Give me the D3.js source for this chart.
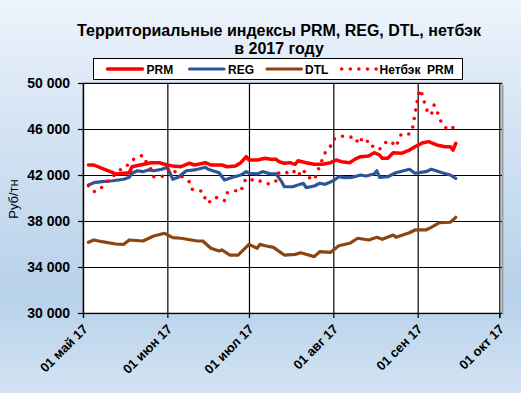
<!DOCTYPE html>
<html><head><meta charset="utf-8">
<script src="https://cdn.jsdelivr.net/npm/d3@7"></script>
<style>body{margin:0;background:#fff}svg{display:block}</style>
</head><body>
<svg id="c" width="521" height="393"></svg>
<script>
// ---------- DATA ----------
const titleLines = ["Территориальные индексы PRM, REG, DTL, нетбэк", "в 2017 году"];
const seriesNames = ["PRM", "REG", "DTL", "Нетбэк  PRM"];
const yTicks = [30000, 34000, 38000, 42000, 46000, 50000];
const xTickDates = ["2017-05-01","2017-06-01","2017-07-01","2017-08-01","2017-09-01","2017-10-01"];
const xTickLabels = ["01 май 17","01 июн 17","01 июл 17","01 авг 17","01 сен 17","01 окт 17"];
const yTitle = "Руб/тн";

const prmDates = ["2017-05-03","2017-05-05","2017-05-08","2017-05-12","2017-05-13","2017-05-16","2017-05-18","2017-05-19","2017-05-22","2017-05-26","2017-05-29","2017-06-01","2017-06-03","2017-06-06","2017-06-09","2017-06-11","2017-06-15","2017-06-17","2017-06-21","2017-06-23","2017-06-26","2017-06-28","2017-06-30","2017-07-01","2017-07-04","2017-07-07","2017-07-09","2017-07-11","2017-07-12","2017-07-14","2017-07-16","2017-07-18","2017-07-19","2017-07-22","2017-07-25","2017-07-28","2017-07-31","2017-08-02","2017-08-04","2017-08-07","2017-08-09","2017-08-11","2017-08-14","2017-08-16","2017-08-18","2017-08-19","2017-08-21","2017-08-23","2017-08-26","2017-08-29","2017-08-31","2017-09-03","2017-09-05","2017-09-08","2017-09-11","2017-09-13","2017-09-14","2017-09-15"];
const prmValues = [42870,42870,42580,42200,42090,42150,42200,42720,42870,43070,43070,42870,42780,42720,43020,42870,43070,42870,42870,42720,42780,43070,43590,43300,43300,43450,43370,43370,43160,43020,43070,42930,43240,43070,42930,42930,43070,43300,43160,43070,43380,43590,43650,43940,43740,43450,43450,43940,43890,44170,44460,44810,44900,44610,44460,44460,44170,44760];

const regDates = ["2017-05-03","2017-05-05","2017-05-08","2017-05-12","2017-05-16","2017-05-18","2017-05-19","2017-05-21","2017-05-23","2017-05-25","2017-05-27","2017-05-30","2017-06-01","2017-06-02","2017-06-03","2017-06-05","2017-06-06","2017-06-08","2017-06-11","2017-06-15","2017-06-16","2017-06-20","2017-06-22","2017-06-25","2017-06-28","2017-06-30","2017-07-01","2017-07-04","2017-07-06","2017-07-09","2017-07-11","2017-07-13","2017-07-14","2017-07-17","2017-07-19","2017-07-21","2017-07-22","2017-07-25","2017-07-27","2017-07-29","2017-08-01","2017-08-03","2017-08-05","2017-08-08","2017-08-11","2017-08-13","2017-08-16","2017-08-17","2017-08-18","2017-08-21","2017-08-24","2017-08-29","2017-08-31","2017-09-04","2017-09-06","2017-09-10","2017-09-13","2017-09-15"];
const regValues = [41130,41330,41420,41500,41630,41800,42150,42370,42290,42440,42370,42500,42670,42150,41630,41800,42000,42370,42440,42670,42500,42200,41570,41800,42000,42290,42150,42090,42290,42090,42090,41420,40980,40980,41130,41280,40900,41040,41280,41190,41500,41850,41770,41800,42000,41910,42090,42370,41800,41850,42200,42500,42150,42290,42500,42200,42000,41710];

const dtlDates = ["2017-05-03","2017-05-05","2017-05-08","2017-05-13","2017-05-16","2017-05-18","2017-05-23","2017-05-27","2017-05-31","2017-06-03","2017-06-06","2017-06-12","2017-06-14","2017-06-17","2017-06-20","2017-06-21","2017-06-24","2017-06-27","2017-07-01","2017-07-04","2017-07-05","2017-07-07","2017-07-10","2017-07-14","2017-07-18","2017-07-20","2017-07-25","2017-07-27","2017-07-31","2017-08-03","2017-08-07","2017-08-10","2017-08-14","2017-08-17","2017-08-19","2017-08-23","2017-08-24","2017-08-29","2017-08-31","2017-09-04","2017-09-06","2017-09-09","2017-09-13","2017-09-15"];
const dtlValues = [36150,36350,36200,36000,35970,36350,36260,36700,36930,36550,36500,36260,36260,35630,35390,35480,35040,35040,35970,35630,35970,35850,35710,35040,35100,35240,34900,35330,35280,35850,36060,36500,36350,36580,36410,36780,36580,36980,37220,37220,37450,37850,37890,38320];

const netDates = ["2017-05-03","2017-05-05","2017-05-07","2017-05-09","2017-05-11","2017-05-15","2017-05-16","2017-05-20","2017-05-23","2017-05-24","2017-05-26","2017-05-27","2017-05-30","2017-06-02","2017-06-04","2017-06-09","2017-06-10","2017-06-12","2017-06-14","2017-06-15","2017-06-16","2017-06-18","2017-06-20","2017-06-22","2017-06-23","2017-06-26","2017-06-28","2017-06-29","2017-06-30","2017-07-02","2017-07-04","2017-07-06","2017-07-09","2017-07-11","2017-07-12","2017-07-13","2017-07-15","2017-07-17","2017-07-19","2017-07-20","2017-07-21","2017-07-22","2017-07-25","2017-07-26","2017-07-27","2017-07-28","2017-07-29","2017-07-31","2017-08-01","2017-08-02","2017-08-04","2017-08-06","2017-08-09","2017-08-10","2017-08-11","2017-08-12","2017-08-14","2017-08-15","2017-08-17","2017-08-18","2017-08-20","2017-08-22","2017-08-24","2017-08-25","2017-08-26","2017-08-29","2017-08-30","2017-08-31","2017-09-01","2017-09-02","2017-09-03","2017-09-04","2017-09-05","2017-09-06","2017-09-07","2017-09-08","2017-09-09","2017-09-10","2017-09-11","2017-09-12","2017-09-13","2017-09-14","2017-09-15"];
const netValues = [41070,40550,40700,41220,41680,42500,42550,43450,43710,43220,42500,41850,41850,42580,42250,41420,40760,40700,40550,39890,39540,40030,40030,39770,40460,40640,40550,41280,41710,41570,41630,41330,41200,41500,42200,42290,42200,42440,41910,42290,42500,41910,41570,42150,42800,43370,43940,44520,45100,45190,45390,45280,45300,44810,45190,44760,44980,44520,44460,44240,44810,44980,44460,45040,45570,45570,45910,47280,48670,49440,48740,47830,47390,47220,48090,47650,46960,46430,46170,46000,45910,46130,46260];

// ---------- LAYOUT ----------
const W = 521, H = 393;
const plot = {left: 83, top: 83, right: 502, bottom: 313};
const parse = d3.timeParse("%Y-%m-%d");
const colors = {PRM: "#ff0000", REG: "#2f5597", DTL: "#8b4513", NET: "#ff0000"};
const FONT = "'Liberation Sans', Arial, sans-serif";

const svg = d3.select("#c");
const defs = svg.append("defs");
const grad = defs.append("linearGradient").attr("id", "bg").attr("x1", 0).attr("y1", 0).attr("x2", 0).attr("y2", 1);
grad.append("stop").attr("offset", "0%").attr("stop-color", "#eef4fb");
grad.append("stop").attr("offset", "20%").attr("stop-color", "#dde9f6");
grad.append("stop").attr("offset", "75%").attr("stop-color", "#b7d1ea");
grad.append("stop").attr("offset", "100%").attr("stop-color", "#d3e3f3");
svg.append("rect").attr("width", W).attr("height", H).attr("fill", "url(#bg)");

const x = d3.scaleTime().domain([parse(xTickDates[0]), parse(xTickDates[xTickDates.length - 1])]).range([83, 499.3]);
const y = d3.scaleLinear().domain([30000, 50000]).range([plot.bottom, plot.top]);

// plot area with shadow
svg.append("rect").attr("x", plot.left + 2).attr("y", plot.top + 2)
  .attr("width", plot.right - plot.left).attr("height", plot.bottom - plot.top)
  .attr("fill", "#9fb3c8").attr("opacity", 0.7);
svg.append("rect").attr("x", plot.left).attr("y", plot.top)
  .attr("width", plot.right - plot.left).attr("height", plot.bottom - plot.top)
  .attr("fill", "#ffffff").attr("stroke", "#808080").attr("stroke-width", 1);

// gridlines
const fmt = v => d3.format(",")(v).replace(/,/g, " ");
const gy = svg.append("g").attr("transform", `translate(${plot.left},0)`)
  .call(d3.axisLeft(y).tickValues(yTicks).tickSize(-(plot.right - plot.left)).tickFormat(""));
gy.select(".domain").remove();
gy.selectAll("line").attr("stroke", "#000").attr("stroke-width", 1.2);

const gx = svg.append("g").attr("transform", `translate(0,${plot.bottom})`)
  .call(d3.axisBottom(x).tickValues(xTickDates.map(parse)).tickSize(-(plot.bottom - plot.top)).tickFormat(""));
gx.select(".domain").remove();
gx.selectAll("line").attr("stroke", "#000").attr("stroke-width", 1.2);

// axes
const ay = svg.append("g").attr("transform", `translate(${plot.left},0)`)
  .call(d3.axisLeft(y).tickValues(yTicks).tickSize(5).tickPadding(8).tickFormat(fmt));
ay.select(".domain").attr("stroke", "#000").attr("stroke-width", 1.2);
ay.selectAll("line").attr("stroke", "#000").attr("stroke-width", 1.2);
ay.selectAll("text").attr("font-family", FONT).attr("font-size", 14).attr("font-weight", "bold").attr("fill", "#000");

const ax = svg.append("g").attr("transform", `translate(0,${plot.bottom})`)
  .call(d3.axisBottom(x).tickValues(xTickDates.map(parse)).tickSize(5)
    .tickFormat((d, i) => xTickLabels[i]));
ax.select(".domain").attr("stroke", "#000").attr("stroke-width", 1.2);
ax.selectAll("line").attr("stroke", "#000").attr("stroke-width", 1.2);
ax.selectAll("text")
  .attr("font-family", FONT).attr("font-size", 13).attr("font-weight", "bold").attr("fill", "#000")
  .attr("text-anchor", "end").attr("dy", 0).attr("y", 0)
  .attr("transform", "translate(5,17) rotate(-45)");

// series
function mk(dates, values) { return dates.map((d, i) => ({date: parse(d), value: values[i]})); }
const line = d3.line().x(d => x(d.date)).y(d => y(d.value));
const lines = [
  {data: mk(dtlDates, dtlValues), color: colors.DTL, w: 3.2},
  {data: mk(regDates, regValues), color: colors.REG, w: 3.2},
  {data: mk(prmDates, prmValues), color: colors.PRM, w: 3.5}
];
lines.forEach(s => {
  svg.append("path").datum(s.data).attr("d", line).attr("fill", "none")
    .attr("stroke", s.color).attr("stroke-width", s.w)
    .attr("stroke-linejoin", "round").attr("stroke-linecap", "round");
});
svg.append("path").datum(mk(netDates, netValues)).attr("d", line).attr("fill", "none")
  .attr("stroke", colors.NET).attr("stroke-width", 3.6)
  .attr("stroke-dasharray", "0 8.6").attr("stroke-linecap", "round");

// title
const t = svg.append("text").attr("x", 279).attr("y", 35.5).attr("text-anchor", "middle")
  .attr("font-family", FONT).attr("font-size", 16).attr("font-weight", "bold").attr("fill", "#000");
t.append("tspan").attr("x", 279).text(titleLines[0]);
t.append("tspan").attr("x", 279).attr("dy", 18).text(titleLines[1]);

// y title
svg.append("text").attr("transform", "translate(18,199) rotate(-90)").attr("text-anchor", "middle")
  .attr("font-family", FONT).attr("font-size", 13).attr("fill", "#000").text(yTitle);

// legend
const lg = svg.append("g");
lg.append("rect").attr("x", 93.5).attr("y", 58.5).attr("width", 369).attr("height", 21)
  .attr("fill", "#fff").attr("stroke", "#000").attr("stroke-width", 1);
const legItems = [
  {name: seriesNames[0], color: colors.PRM, x0: 107.5, x1: 142.5, tx: 146.5, dash: null, w: 3.5},
  {name: seriesNames[1], color: colors.REG, x0: 189.5, x1: 224, tx: 228, dash: null, w: 3.2},
  {name: seriesNames[2], color: colors.DTL, x0: 267, x1: 301.5, tx: 305, dash: null, w: 3.2},
  {name: seriesNames[3], color: colors.NET, x0: 341.7, x1: 376.2, tx: 379.5, dash: "0 8.6", w: 3.6}
];
legItems.forEach(it => {
  const l = lg.append("line").attr("x1", it.x0).attr("x2", it.x1).attr("y1", 69).attr("y2", 69)
    .attr("stroke", it.color).attr("stroke-width", it.w).attr("stroke-linecap", "round");
  if (it.dash) l.attr("stroke-dasharray", it.dash);
  lg.append("text").attr("x", it.tx).attr("y", 73.5).attr("font-family", FONT)
    .attr("font-size", 12).attr("font-weight", "bold").attr("fill", "#000")
    .attr("xml:space", "preserve").style("white-space", "pre").text(it.name);
});
</script>
</body></html>
